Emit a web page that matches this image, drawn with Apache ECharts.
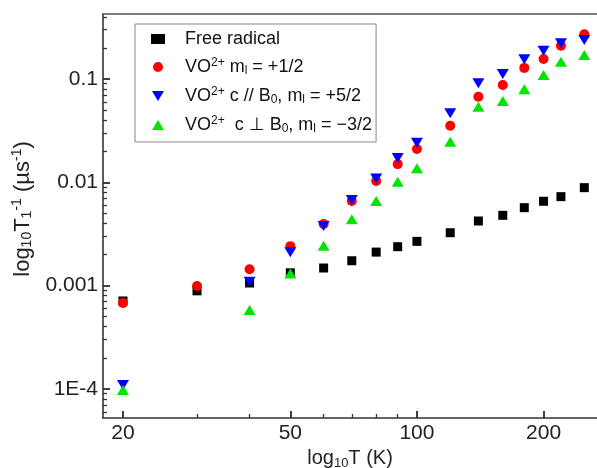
<!DOCTYPE html>
<html>
<head>
<meta charset="utf-8">
<script src="https://cdn.jsdelivr.net/npm/echarts@6/dist/echarts.min.js"></script>
<style>html,body{margin:0;padding:0;background:#fff}#c{width:597px;height:468px}</style>
</head>
<body>
<div id="c"></div>
<script>
const temps = [20, 30, 40, 50, 60, 70, 80, 90, 100, 120, 140, 160, 180, 200, 220, 250];
const freeRadical = [7.1e-4, 8.9e-4, 1.06e-3, 1.33e-3, 1.48e-3, 1.74e-3, 2.11e-3, 2.38e-3, 2.68e-3, 3.25e-3, 4.22e-3, 4.79e-3, 5.68e-3, 6.55e-3, 7.26e-3, 8.87e-3];
const voHalf = [6.8e-4, 9.9e-4, 1.44e-3, 2.41e-3, 3.94e-3, 6.59e-3, 1.03e-2, 1.50e-2, 2.10e-2, 3.53e-2, 6.74e-2, 8.75e-2, 0.128, 0.156, 0.210, 0.271];
const voPar = [1.09e-4, null, 1.09e-3, 2.10e-3, 3.78e-3, 6.75e-3, 1.09e-2, 1.72e-2, 2.42e-2, 4.65e-2, 9.08e-2, 0.112, 0.155, 0.188, 0.222, 0.239];
const voPerp = [9.75e-5, null, 5.8e-4, 1.31e-3, 2.43e-3, 4.39e-3, 6.59e-3, 1.01e-2, 1.37e-2, 2.47e-2, 5.39e-2, 6.12e-2, 7.94e-2, 0.109, 0.147, 0.171];
const xTickLabels = [20, 50, 100, 200];
const xMinorTicks = [30, 40, 60, 70, 80, 90];
const yTickLabels = [1e-4, 1e-3, 1e-2, 0.1];
const yTickText = ['1E-4', '0.001', '0.01', '0.1'];
const yMinorTicks = [6e-5, 7e-5, 8e-5, 9e-5,
  2e-4, 3e-4, 4e-4, 5e-4, 6e-4, 7e-4, 8e-4, 9e-4,
  2e-3, 3e-3, 4e-3, 5e-3, 6e-3, 7e-3, 8e-3, 9e-3,
  0.02, 0.03, 0.04, 0.05, 0.06, 0.07, 0.08, 0.09,
  0.2, 0.3, 0.4];

const xMin = 17.93, xMax = 268;
const yMin = 5.23e-5, yMax = 0.4255;

function pairs(vals) {
  return temps.map((t, i) => vals[i] == null ? null : [t, vals[i]]).filter(p => p);
}

const axisColor = '#333333';
const font = 'Liberation Sans, Arial, sans-serif';
const downTri = 'path://M0,0 L12,0 L6,10 Z';
const upTri = 'path://M6,0 L12,10 L0,10 Z';

// plot area: left 103, top 14, right 0, bottom 50 (x axis at y=418)
const mainGrid = {left: 103, top: 14, right: 0, bottom: 50, containLabel: false, outerBoundsMode: 'none'};
// thin strips inside the plot edges that carry the tick marks
const xMajorStrip = {left: 103, right: 0, top: 411, height: 7, outerBoundsMode: 'none'};
const xMinorStrip = {left: 103, right: 0, top: 414, height: 4, outerBoundsMode: 'none'};
const yMajorStrip = {left: 103, width: 7, top: 14, bottom: 50, outerBoundsMode: 'none'};
const yMinorStrip = {left: 103, width: 4, top: 14, bottom: 50, outerBoundsMode: 'none'};

function xTickStrip(gridIndex, values, width) {
  return {
    gridIndex: gridIndex, type: 'log', logBase: 10, min: xMin, max: xMax,
    axisLine: {show: false}, axisLabel: {show: false},
    axisTick: {show: false, customValues: values},
    splitLine: {show: true, lineStyle: {color: axisColor, width: width, type: 'solid'}}
  };
}
function yTickStrip(gridIndex, values, width) {
  return {
    gridIndex: gridIndex, type: 'log', logBase: 10, min: yMin, max: yMax,
    axisLine: {show: false}, axisLabel: {show: false},
    axisTick: {show: false, customValues: values},
    splitLine: {show: true, lineStyle: {color: axisColor, width: width, type: 'solid'}}
  };
}
function hiddenValue(gridIndex) {
  return {gridIndex: gridIndex, type: 'value', min: 0, max: 1, show: false, splitLine: {show: false}};
}

const chart = echarts.init(document.getElementById('c'), null, {renderer: 'canvas'});
chart.setOption({
  animation: false,
  backgroundColor: '#fff',
  grid: [mainGrid, xMajorStrip, xMinorStrip, yMajorStrip, yMinorStrip],
  legend: {
    show: true,
    left: 135, top: 24,
    orient: 'vertical',
    padding: [6, 4, 7, 16],
    itemGap: 9,
    itemWidth: 14, itemHeight: 10,
    borderColor: '#888', borderWidth: 1,
    backgroundColor: '#fff',
    textStyle: {
      fontFamily: font, fontSize: 18, color: '#111', padding: [0, 0, 0, 15],
      rich: {
        sup: {fontSize: 12, verticalAlign: 'top', padding: [0, 0, 8, 0], fontFamily: font, color: '#111'},
        sub: {fontSize: 12, verticalAlign: 'bottom', padding: [8, 0, 0, 0], fontFamily: font, color: '#111'}
      }
    },
    data: [
      {name: 'Free radical', icon: 'rect', itemStyle: {color: '#000'}},
      {name: 'VO2+ mI = +1/2', icon: 'circle'},
      {name: 'VO2+ c // B0, mI = +5/2', icon: downTri},
      {name: 'VO2+ c ⊥ B0, mI = −3/2', icon: upTri}
    ],
    formatter: function (name) {
      switch (name) {
        case 'VO2+ mI = +1/2': return 'VO{sup|2+} m{sub|l} = +1/2';
        case 'VO2+ c // B0, mI = +5/2': return 'VO{sup|2+} c // B{sub|0}, m{sub|l} = +5/2';
        case 'VO2+ c ⊥ B0, mI = −3/2': return 'VO{sup|2+}  c ⊥ B{sub|0}, m{sub|l} = −3/2';
        default: return name;
      }
    }
  },
  xAxis: [{
    gridIndex: 0,
    type: 'log', logBase: 10, min: xMin, max: xMax, position: 'bottom',
    name: 'log{sub|10}T (K)', nameLocation: 'middle', nameGap: 25,
    nameTextStyle: {fontFamily: font, fontSize: 20, color: '#222',
      rich: {sub: {fontSize: 13, verticalAlign: 'bottom', padding: [10, 0, 0, 0], fontFamily: font, color: '#222'}}},
    axisLine: {show: true, lineStyle: {color: axisColor, width: 1.6}},
    axisTick: {show: true, inside: true, length: 7, customValues: xTickLabels, lineStyle: {color: axisColor, width: 1.5}},
    axisLabel: {show: true, customValues: xTickLabels, margin: 5, fontFamily: font, fontSize: 21, color: '#222',
      formatter: v => String(Math.round(v))},
    splitLine: {show: false}
  }, {
    gridIndex: 0,
    type: 'log', logBase: 10, min: xMin, max: xMax, position: 'top',
    axisLine: {show: true, lineStyle: {color: '#555', width: 1.6}},
    axisTick: {show: false}, axisLabel: {show: false}, splitLine: {show: false}
  },
    xTickStrip(1, xTickLabels, 1.5),
    xTickStrip(2, xMinorTicks, 1.3),
    hiddenValue(3),
    hiddenValue(4)
  ],
  yAxis: [{
    gridIndex: 0,
    type: 'log', logBase: 10, min: yMin, max: yMax, position: 'left',
    name: 'log{sub|10}T{sub|1}{sup|-1} (µs{sup|-1})', nameLocation: 'middle', nameGap: 64, nameRotate: 90,
    nameTextStyle: {fontFamily: font, fontSize: 22, color: '#222', padding: [0, 0, 0, 14],
      rich: {
        sub: {fontSize: 14, verticalAlign: 'bottom', padding: [10, 0, 0, 0], fontFamily: font, color: '#222'},
        sup: {fontSize: 14, verticalAlign: 'top', padding: [0, 0, 10, 0], fontFamily: font, color: '#222'}
      }},
    axisLine: {show: true, lineStyle: {color: axisColor, width: 1.6}},
    axisTick: {show: true, inside: true, length: 7, customValues: yTickLabels, lineStyle: {color: axisColor, width: 1.5}},
    axisLabel: {show: true, customValues: yTickLabels, margin: 5, fontFamily: font, fontSize: 21, color: '#222',
      formatter: v => {
        const i = yTickLabels.findIndex(t => Math.abs(Math.log10(t) - Math.log10(v)) < 1e-6);
        return i >= 0 ? yTickText[i] : '';
      }},
    splitLine: {show: false}
  },
    hiddenValue(1),
    hiddenValue(2),
    yTickStrip(3, yTickLabels, 1.5),
    yTickStrip(4, yMinorTicks, 1.3)
  ],
  series: [
    {name: 'Free radical', type: 'scatter', xAxisIndex: 0, yAxisIndex: 0, symbol: 'rect', symbolSize: 9, itemStyle: {color: '#000', opacity: 1}, data: pairs(freeRadical), z: 2},
    {name: 'VO2+ mI = +1/2', type: 'scatter', xAxisIndex: 0, yAxisIndex: 0, symbol: 'circle', symbolSize: 10, itemStyle: {color: '#ff0000', opacity: 1}, data: pairs(voHalf), z: 3},
    {name: 'VO2+ c // B0, mI = +5/2', type: 'scatter', xAxisIndex: 0, yAxisIndex: 0, symbol: downTri, symbolSize: [12, 10], itemStyle: {color: '#0000ff', opacity: 1}, data: pairs(voPar), z: 4},
    {name: 'VO2+ c ⊥ B0, mI = −3/2', type: 'scatter', xAxisIndex: 0, yAxisIndex: 0, symbol: upTri, symbolSize: [12, 10], itemStyle: {color: '#00e600', opacity: 1}, data: pairs(voPerp), z: 5}
  ]
});
</script>
</body>
</html>
